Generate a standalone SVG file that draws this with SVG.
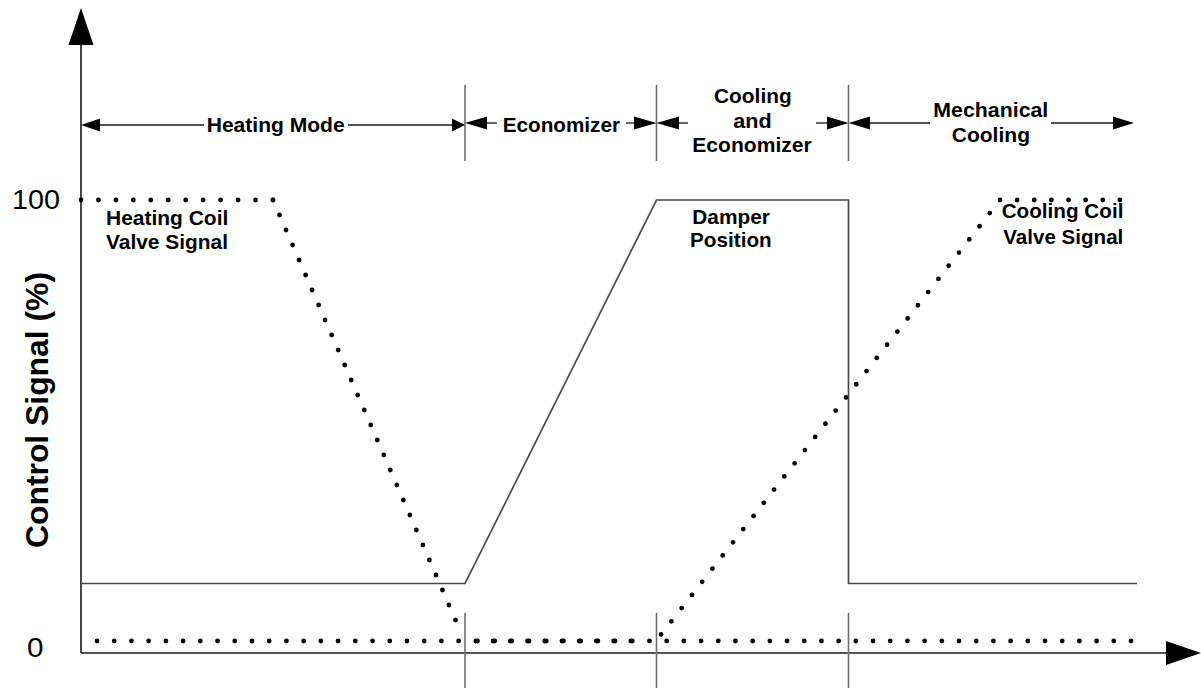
<svg xmlns="http://www.w3.org/2000/svg" width="1201" height="688" viewBox="0 0 1201 688">
<style>
.lbl{font-family:"Liberation Sans",Arial,sans-serif;font-weight:bold;font-size:21px;fill:#000}
.num{font-family:"Liberation Sans",Arial,sans-serif;font-size:27px;fill:#000}
.axis{stroke:#1a1a1a;stroke-width:1.6;fill:none}
.div{stroke:#707070;stroke-width:1.6;fill:none}
.dim{stroke:#1a1a1a;stroke-width:1.3;fill:none}
.head{fill:#000}
.dot{stroke:#000;stroke-width:4.8;stroke-linecap:round;fill:none}
.damper{stroke:#4a4a4a;stroke-width:1.7;fill:none;stroke-linejoin:miter}
</style>
<rect width="1201" height="688" fill="#fff"/>
<g id="axes">
<line class="axis" x1="81" y1="44" x2="81" y2="653"/>
<line class="axis" x1="81" y1="653" x2="1167" y2="653"/>
<polygon class="head" points="81,8 68.5,45 93.5,45"/>
<polygon class="head" points="1201,653 1166,641 1166,665"/>
<text class="num" x="12" y="208.5" textLength="48" lengthAdjust="spacingAndGlyphs">100</text>
<text class="num" x="27" y="656.5" textLength="16.5" lengthAdjust="spacingAndGlyphs">0</text>
<text class="lbl" transform="translate(48,410) rotate(-90)" x="-138" y="0" style="font-size:31px" textLength="276" lengthAdjust="spacingAndGlyphs">Control Signal (%)</text>
</g>
<g id="dividers">
<line class="div" x1="465" y1="85" x2="465" y2="161"/>
<line class="div" x1="656.5" y1="85" x2="656.5" y2="161"/>
<line class="div" x1="848.5" y1="85" x2="848.5" y2="161"/>
<line class="div" x1="465" y1="613" x2="465" y2="688"/>
<line class="div" x1="656.5" y1="613" x2="656.5" y2="688"/>
<line class="div" x1="848.5" y1="613" x2="848.5" y2="688"/>
</g>
<g id="connectors">
<g id="heating-mode-dim">
<polygon class="head" points="81,125 100,118.5 100,131.5"/>
<line class="dim" x1="100" y1="125" x2="204" y2="125"/>
<line class="dim" x1="348" y1="125" x2="452" y2="125"/>
<polygon class="head" points="465,125 452,118.5 452,131.5"/>
</g>
<g id="economizer-dim">
<polygon class="head" points="465,123 487,116.5 487,129.5"/>
<line class="dim" x1="487" y1="123" x2="497" y2="123"/>
<line class="dim" x1="626" y1="123" x2="634" y2="123"/>
<polygon class="head" points="656.5,123 634,116.5 634,129.5"/>
</g>
<g id="cooling-econ-dim">
<polygon class="head" points="656.5,123 679,116.5 679,129.5"/>
<line class="dim" x1="679" y1="123" x2="688" y2="123"/>
<line class="dim" x1="816" y1="123" x2="827" y2="123"/>
<polygon class="head" points="848.5,123 827,116.5 827,129.5"/>
</g>
<g id="mechanical-dim">
<polygon class="head" points="848.5,123 870,116.5 870,129.5"/>
<line class="dim" x1="870" y1="123" x2="930" y2="123"/>
<line class="dim" x1="1051" y1="123" x2="1113" y2="123"/>
<polygon class="head" points="1134,123 1113,116.5 1113,129.5"/>
</g>
</g>
<g id="mode-labels">
<text class="lbl" x="206.7" y="131.5" textLength="138" lengthAdjust="spacingAndGlyphs">Heating Mode</text>
<text class="lbl" x="502.7" y="131.5" textLength="117.3" lengthAdjust="spacingAndGlyphs">Economizer</text>
<text class="lbl" x="714" y="102.5" textLength="77.7" lengthAdjust="spacingAndGlyphs">Cooling</text>
<text class="lbl" x="733.3" y="127.5" textLength="38.4" lengthAdjust="spacingAndGlyphs">and</text>
<text class="lbl" x="692.3" y="152" textLength="119.4" lengthAdjust="spacingAndGlyphs">Economizer</text>
<text class="lbl" x="933.3" y="117" textLength="115" lengthAdjust="spacingAndGlyphs">Mechanical</text>
<text class="lbl" x="951.7" y="142" textLength="78.3" lengthAdjust="spacingAndGlyphs">Cooling</text>
</g>
<g id="damper-position">
<polyline class="damper" points="81,583.5 465,583.5 656.5,200 848.5,200 848.5,583.5 1137,583.5"/>
<text class="lbl" x="692.3" y="223.5" textLength="77.7" lengthAdjust="spacingAndGlyphs">Damper</text>
<text class="lbl" x="690" y="247" textLength="81.7" lengthAdjust="spacingAndGlyphs">Position</text>
</g>
<g id="heating-coil-valve">
<path class="dot" d="M81,200 H273" stroke-dasharray="0 17.45"/>
<path class="dot" d="M273,200 L462,635" stroke-dasharray="0 16.355"/>
<path class="dot" d="M477.5,641 H1131" stroke-dasharray="0 17.197"/>
<text class="lbl" x="106" y="225" textLength="122.3" lengthAdjust="spacingAndGlyphs">Heating Coil</text>
<text class="lbl" x="106" y="248.5" textLength="122" lengthAdjust="spacingAndGlyphs">Valve Signal</text>
</g>
<g id="cooling-coil-valve">
<path class="dot" d="M97,641 H648" stroke-dasharray="0 17.22"/>
<path class="dot" d="M656,641 L1000,200" stroke-dasharray="0 16.7" stroke-dashoffset="8.4"/>
<path class="dot" d="M1000,200 H1137" stroke-dasharray="0 17.125"/>
<text class="lbl" x="1001.7" y="217.5" textLength="121.7" lengthAdjust="spacingAndGlyphs">Cooling Coil</text>
<text class="lbl" x="1003.3" y="243.5" textLength="120" lengthAdjust="spacingAndGlyphs">Valve Signal</text>
</g>
</svg>
